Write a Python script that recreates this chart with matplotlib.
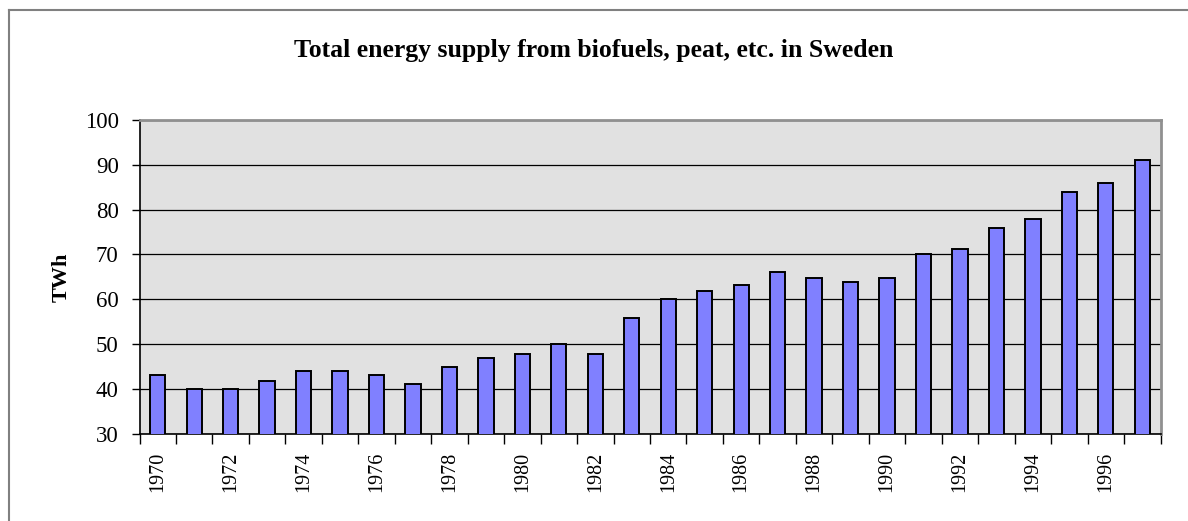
import numpy as np
import matplotlib.pyplot as plt
from matplotlib.lines import Line2D

# Data
years = list(range(1970, 1998))
supply_twh = [43, 40, 40, 41.8, 44, 44, 43, 41, 44.8, 47,
              47.8, 50, 47.8, 55.9, 60, 61.8, 63.2, 66, 64.8, 63.9,
              64.8, 70, 71.2, 75.8, 77.9, 83.9, 86, 91.1]
y_ticks = [30, 40, 50, 60, 70, 80, 90, 100]

plt.rcParams['font.family'] = ['Liberation Serif', 'DejaVu Serif']

fig = plt.figure(figsize=(11.88, 5.21), dpi=100)
ax = fig.add_axes([139.5/1188, 1 - 433.7/521, (1160.5-139.5)/1188, (433.7-120)/521])

x = np.arange(len(years))
ax.set_facecolor('#e1e1e1')
ax.set_axisbelow(True)
ax.bar(x, supply_twh, width=0.42, bottom=0, color='#8080ff',
       edgecolor='black', linewidth=1.4, zorder=3)

ax.set_ylim(30, 100)
ax.set_xlim(-0.5, len(years) - 0.5)
ax.set_yticks(y_ticks)
ax.yaxis.grid(True, color='black', linewidth=0.9)
ax.tick_params(axis='y', length=6, width=1, pad=9, labelsize=16.5)

# tick marks at category boundaries, labels every second year
ax.set_xticks(np.arange(-0.5, len(years), 1.0))
ax.set_xticklabels([])
ax.tick_params(axis='x', which='major', length=7, width=1)
ax.set_xticks(x[::2], minor=True)
ax.set_xticklabels([str(y) for y in years[::2]], minor=True, rotation=90)
ax.tick_params(axis='x', which='minor', length=0, pad=13, labelsize=14.5)

for s in ['left', 'bottom']:
    ax.spines[s].set_color('black')
    ax.spines[s].set_linewidth(1.2)
for s in ['top', 'right']:
    ax.spines[s].set_color('#909090')
    ax.spines[s].set_linewidth(2)

ax.set_ylabel('TWh', fontweight='bold', fontsize=16, labelpad=9)
fig.text(0.5, 1 - 50/521, 'Total energy supply from biofuels, peat, etc. in Sweden',
         ha='center', va='center', fontweight='bold', fontsize=18.5)

# outer chart frame (runs off the right and bottom edges)
fig.add_artist(Line2D([9/1188, 9/1188], [0, 1 - 10/521], color='#808080', linewidth=1.5))
fig.add_artist(Line2D([9/1188, 1], [1 - 10/521, 1 - 10/521], color='#808080', linewidth=1.5))

fig.savefig('out.png', dpi=100)
